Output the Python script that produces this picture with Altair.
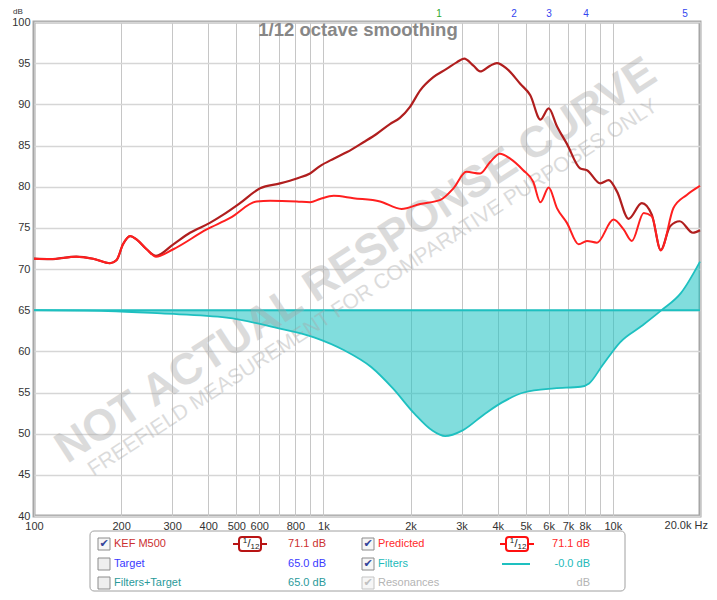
import altair as alt
import pandas as pd

# measured response (dark red), predicted response (red), filters (teal)
kef_freq = [100, 114, 140, 160, 183, 193, 203, 215, 226, 245, 264, 303, 346, 405, 451, 515,
            604, 708, 809, 899, 973, 1085, 1207, 1375, 1526, 1697, 1837, 1991, 2159, 2397,
            2663, 2886, 3063, 3297, 3478, 3768, 3974, 4308, 4784, 5184, 5620, 6001, 6408,
            6938, 7718, 8138, 9050, 9671, 10336, 11330, 12590, 13630, 14640, 15770, 17020,
            18900, 20000]
kef_db = [71.25, 71.2, 71.5, 71.25, 70.7, 71.1, 73.0, 74.0, 73.6, 72.4, 71.6, 73.0, 74.4, 75.6,
          76.6, 78.0, 79.8, 80.4, 81.0, 81.6, 82.5, 83.4, 84.2, 85.4, 86.4, 87.6, 88.35, 89.7,
          91.7, 93.3, 94.3, 95.1, 95.55, 94.7, 94.0, 94.7, 95.0, 94.3, 92.5, 91.1, 88.15, 89.5,
          87.35, 85.2, 82.2, 82.0, 80.4, 80.8, 79.4, 76.1, 78.0, 76.6, 72.3, 75.2, 75.8, 74.4,
          74.7]

pred_freq = [100, 114, 140, 160, 183, 193, 203, 215, 226, 245, 264, 303, 395, 476, 588, 654,
             809, 899, 973, 1085, 1270, 1569, 1861, 2159, 2537, 2814, 3117, 3478, 3768, 4074,
             4417, 4900, 5306, 5620, 6001, 6408, 6938, 7615, 8138, 8814, 10050, 10890, 11630,
             12780, 13630, 14640, 16190, 18000, 20000]
pred_db = [71.25, 71.2, 71.5, 71.25, 70.7, 71.1, 73.0, 74.0, 73.6, 72.4, 71.5, 72.4, 74.8, 76.2,
           78.2, 78.3, 78.2, 78.1, 78.5, 78.9, 78.6, 78.2, 77.3, 77.9, 78.4, 79.8, 81.8, 81.6,
           83.0, 84.0, 83.4, 82.0, 80.6, 78.1, 79.9, 77.4, 75.6, 73.0, 73.4, 73.2, 76.0, 74.8,
           73.4, 76.8, 76.4, 72.25, 77.4, 79.0, 80.1]

filt_freq = [100, 180, 275, 463, 679, 928, 1184, 1462, 1738, 2066, 2373, 2632, 3027, 3607, 4143,
             4923, 6281, 7736, 8276, 9208, 10591, 12600, 14730, 17200, 20000]
filt_db = [65.0, 64.9, 64.6, 64.1, 62.9, 61.7, 60.1, 58.1, 55.5, 52.4, 50.4, 49.7, 50.4, 52.4,
           53.8, 55.0, 55.5, 55.7, 56.1, 58.3, 61.1, 63.1, 65.0, 67.1, 70.9]
target_db = 65.0

marker_freq = [2508, 4556, 6019, 8075, 17760]
marker_text = ["1", "2", "3", "4", "5"]
marker_color = ["#2ea82e", "#3346f0", "#3346f0", "#3346f0", "#3346f0"]

x_grid = [100, 200, 300, 400, 500, 600, 700, 800, 900, 1000, 2000, 3000, 4000, 5000, 6000,
          7000, 8000, 9000, 10000, 20000]
y_ticks = list(range(40, 101, 5))

legend_names = ["KEF M500", "Target", "Filters+Target", "Predicted", "Filters", "Resonances"]
legend_values = ["71.1 dB", "65.0 dB", "65.0 dB", "71.1 dB", "-0.0 dB", "dB"]
legend_colors = ["#cc3030", "#3a3aff", "#2a9a9a", "#ff2a2a", "#22baba", "#b4b4b4"]
legend_checked = [True, False, False, True, True, True]

FONT = "Liberation Sans"
W, H = 666, 494

xs = alt.Scale(type="log", domain=[100, 20000], nice=False)
ys = alt.Scale(domain=[40, 100], nice=False)
x_axis = alt.Axis(values=x_grid, title=None, tickSize=0, labelPadding=4, labelFlush=False,
                  labelOverlap=False, gridColor="#c6c6c6", gridWidth=1,
                  labelExpr="datum.value == 700 || datum.value == 900 || datum.value == 9000"
                            " || datum.value == 20000 ? '' : datum.value >= 1000 ?"
                            " (datum.value / 1000) + 'k' : datum.value + ''")
y_axis = alt.Axis(values=y_ticks, title=None, tickSize=0, labelPadding=4,
                  gridColor="#d6d6d6", gridWidth=1.5)


def X(field):
    return alt.X(field, scale=xs, axis=x_axis, title=None)


def Y(field):
    return alt.Y(field, scale=ys, axis=y_axis, title=None)


kef = pd.DataFrame({"f": kef_freq, "db": kef_db})
pred = pd.DataFrame({"f": pred_freq, "db": pred_db})
filt = pd.DataFrame({"f": filt_freq, "db": filt_db, "base": target_db})
marks = pd.DataFrame({"f": marker_freq, "t": marker_text, "c": marker_color})
one = pd.DataFrame({"k": [0]})

area = alt.Chart(filt).mark_area(interpolate="monotone", fill="#22c3c3", fillOpacity=0.57).encode(
    x=X("f:Q"), y=Y("db:Q"), y2="base:Q")
target_line = alt.Chart(pd.DataFrame({"y": [target_db]})).mark_rule(
    color="#1ec0c0", strokeWidth=2).encode(y=Y("y:Q"))
filt_line = alt.Chart(filt).mark_line(interpolate="monotone", color="#1ec0c0", strokeWidth=1.8).encode(
    x=X("f:Q"), y=Y("db:Q"))
kef_line = alt.Chart(kef).mark_line(interpolate="monotone", color="#b01e1e", strokeWidth=2.2).encode(
    x=X("f:Q"), y=Y("db:Q"))
pred_line = alt.Chart(pred).mark_line(interpolate="monotone", color="#ff1f1f", strokeWidth=2).encode(
    x=X("f:Q"), y=Y("db:Q"))

marker_layer = alt.Chart(marks).mark_text(font=FONT, fontSize=10, baseline="middle").encode(
    x=X("f:Q"), y=alt.value(-8), text="t:N", color=alt.Color("c:N", scale=None))
hz_label = alt.Chart(pd.DataFrame({"f": [20000]})).mark_text(
    text="20.0k Hz", font=FONT, fontSize=11, color="#333333", align="right", baseline="top", dx=8
).encode(x=X("f:Q"), y=alt.value(H + 4))


def txt(s, x, y, color, size=11, align="left", weight="normal", font=FONT, **kw):
    return alt.Chart(one).mark_text(text=s, align=align, baseline="middle", fontSize=size,
                                    color=color, font=font, fontWeight=weight, **kw).encode(
        x=alt.value(x), y=alt.value(y))


def box(x0, x1, y0, y1, **kw):
    return alt.Chart(one).mark_rect(**kw).encode(
        x=alt.value(x0), x2=alt.value(x1), y=alt.value(y0), y2=alt.value(y1))


def hline(x0, x1, y, color, width):
    return alt.Chart(one).mark_rule(color=color, strokeWidth=width).encode(
        x=alt.value(x0), x2=alt.value(x1), y=alt.value(y))


layers = [area, target_line]

# watermark
layers.append(txt("NOT ACTUAL RESPONSE CURVE", 322, 239, "#a8a8a8", size=44, align="center",
                  weight="bold", angle=327, opacity=0.4))
layers.append(txt("FREEFIELD MEASUREMENT FOR COMPARATIVE PURPOSES ONLY", 339, 266, "#a8a8a8",
                  size=21, align="center", angle=327, opacity=0.4))

layers += [filt_line, kef_line, pred_line, marker_layer, hz_label]
layers.append(txt("1/12 octave smoothing", 324, 8, "#878787", size=18.5, align="center", weight="bold"))
layers.append(txt("dB", -16, -10, "#333333", size=8, align="center"))

# legend panel
layers.append(box(56, 591, H + 15, H + 75, fill="white", stroke="#a0a0a0", strokeWidth=1,
                  cornerRadius=4))
rows = [H + 28, H + 48, H + 67]
cols = [(70, 80, 216, 292), (334, 344, 483, 556)]
for i, name in enumerate(legend_names):
    cb, lx, bx, vx = cols[i // 3]
    ry = rows[i % 3]
    grey = name == "Resonances"
    layers.append(box(cb - 6, cb + 6, ry - 6, ry + 6, fill="#eeeeee" if not legend_checked[i] else "#f6f6f6",
                      stroke="#c4c4c4" if grey else "#8c8c8c", strokeWidth=1))
    if legend_checked[i]:
        layers.append(txt("\u2714", cb, ry, "#c0c0c0" if grey else "#34449a", size=11,
                          align="center", font="DejaVu Sans"))
    layers.append(txt(name, lx, ry, legend_colors[i], size=11))
    layers.append(txt(legend_values[i], vx, ry, legend_colors[i], size=11, align="right"))

# smoothing badges and the filters swatch
for bx, ry, col in [(216, rows[0], "#b81414"), (483, rows[0], "#ff1010")]:
    layers.append(hline(bx - 17, bx + 17, ry, col, 2))
    layers.append(box(bx - 11, bx + 11, ry - 7, ry + 7, fill="white", stroke=col, strokeWidth=2,
                      cornerRadius=3))
    layers.append(txt("1", bx - 5, ry - 3, "#222222", size=8, align="center"))
    layers.append(txt("/", bx - 1, ry, "#222222", size=11, align="center"))
    layers.append(txt("12", bx + 5, ry + 3, "#222222", size=8, align="center"))
layers.append(hline(468, 496, rows[1], "#1ec0c0", 2))

chart = alt.layer(*layers).properties(
    width=W, height=H, autosize="none",
    padding={"left": 26, "top": 14, "right": 9, "bottom": 76},
).configure_view(stroke="#a6a6a6", strokeWidth=3).configure_axis(
    labelFont=FONT, labelFontSize=11, labelColor="#333333", domain=False, ticks=False,
)

chart.save("out.html", embed_options={"renderer": "svg", "actions": False})
